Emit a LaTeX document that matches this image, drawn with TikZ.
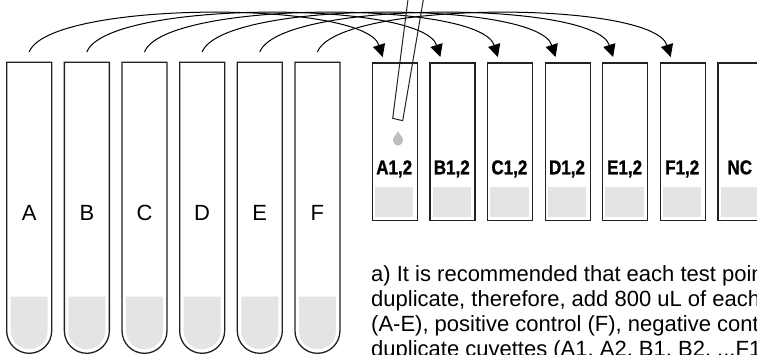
\documentclass[tikz,border=0pt]{standalone}
\usepackage{fontspec}
\setmainfont{Liberation Sans}
\newfontfamily\cuvfont{Liberation Sans}[FakeStretch=0.85,BoldFeatures={FakeBold=1.2}]
\usetikzlibrary{arrows.meta}
\definecolor{edge}{HTML}{222222}
\definecolor{liquid}{HTML}{E4E4E4}
\definecolor{dropc}{HTML}{BDBDBD}
\begin{document}
\begin{tikzpicture}[x=1pt,y=-1pt,
  outline/.style={draw=edge,line width=1.3pt},
  transfer/.style={draw=black,line width=1pt,-{Triangle[width=12.5pt,length=12.5pt]}},
  cuvette/.style={outline,rectangle,minimum width=45pt,minimum height=157.7pt,anchor=north west,inner sep=0pt},
  cuvlabel/.style={font=\cuvfont\bfseries\fontsize{20}{20}\selectfont,anchor=base,inner sep=0pt},
  tubelabel/.style={font=\fontsize{22}{22}\selectfont,anchor=base,inner sep=0pt},
  note/.style={font=\fontsize{22}{25}\selectfont,anchor=base west,align=left,inner sep=0pt},
]
\useasboundingbox (0,0) rectangle (757,354);
\clip (0,0) rectangle (757,354);

% sample tubes with liquid
\foreach \i/\n in {0/A,1/B,2/C,3/D,4/E,5/F}{
  \pgfmathsetmacro\tx{6.7+57.65*\i}
  \fill[liquid] (\tx+4,296.7) -- (\tx+4,330.8) arc[start angle=180,end angle=0,radius=18.5] -- (\tx+41,296.7) -- cycle;
  \draw[outline] (\tx,62.3) -- (\tx,330.8) arc[start angle=180,end angle=0,radius=22.5] -- (\tx+45,62.3) -- cycle;
  \node[tubelabel] (t\n) at (\tx+22.5,220.7) {\n};
  \coordinate (s\n) at (\tx+22.5,52);
}

% cuvettes
\foreach \i/\n/\l in {0/A/{A1,2},1/B/{B1,2},2/C/{C1,2},3/D/{D1,2},4/E/{E1,2},5/F/{F1,2},6/N/{NC}}{
  \pgfmathsetmacro\cx{371.7+57.6*\i}
  \fill[liquid] (\cx+3.3,186.7) rectangle (\cx+41.7,216.7);
  \node[cuvette] (c\n) at (\cx,62.3) {};
  \node[cuvlabel] (l\n) at (\cx+22.5,174.3) {\l};
  \coordinate (e\n) at (\cx+11,57);
}

% transfers from each tube to its cuvette pair
\foreach \n in {A,B,C,D,E,F}{
  \draw[transfer] (s\n) .. controls +(20,-52) and +(-18,-57) .. (e\n);
}

% pipette tip and drop
\draw[edge,line width=1pt] (409.2,-10) -- (392.7,118.3) -- (402.7,120.7) -- (425,-10);
\fill[dropc] (398,131) .. controls (396.5,134.5) and (393,137) .. (393,140.5)
  arc[start angle=180,end angle=0,radius=5] .. controls (403,137) and (399.5,134.5) .. (398,131) -- cycle;

% instructions (multi-line node: base anchor sits on the last line)
\node[note] (txt) at (371,356.7) {a) It is recommended that each test point\\
duplicate, therefore, add 800 uL of each\\
(A-E), positive control (F), negative control\\
duplicate cuvettes (A1, A2, B1, B2, ...F1,};
\end{tikzpicture}
\end{document}
